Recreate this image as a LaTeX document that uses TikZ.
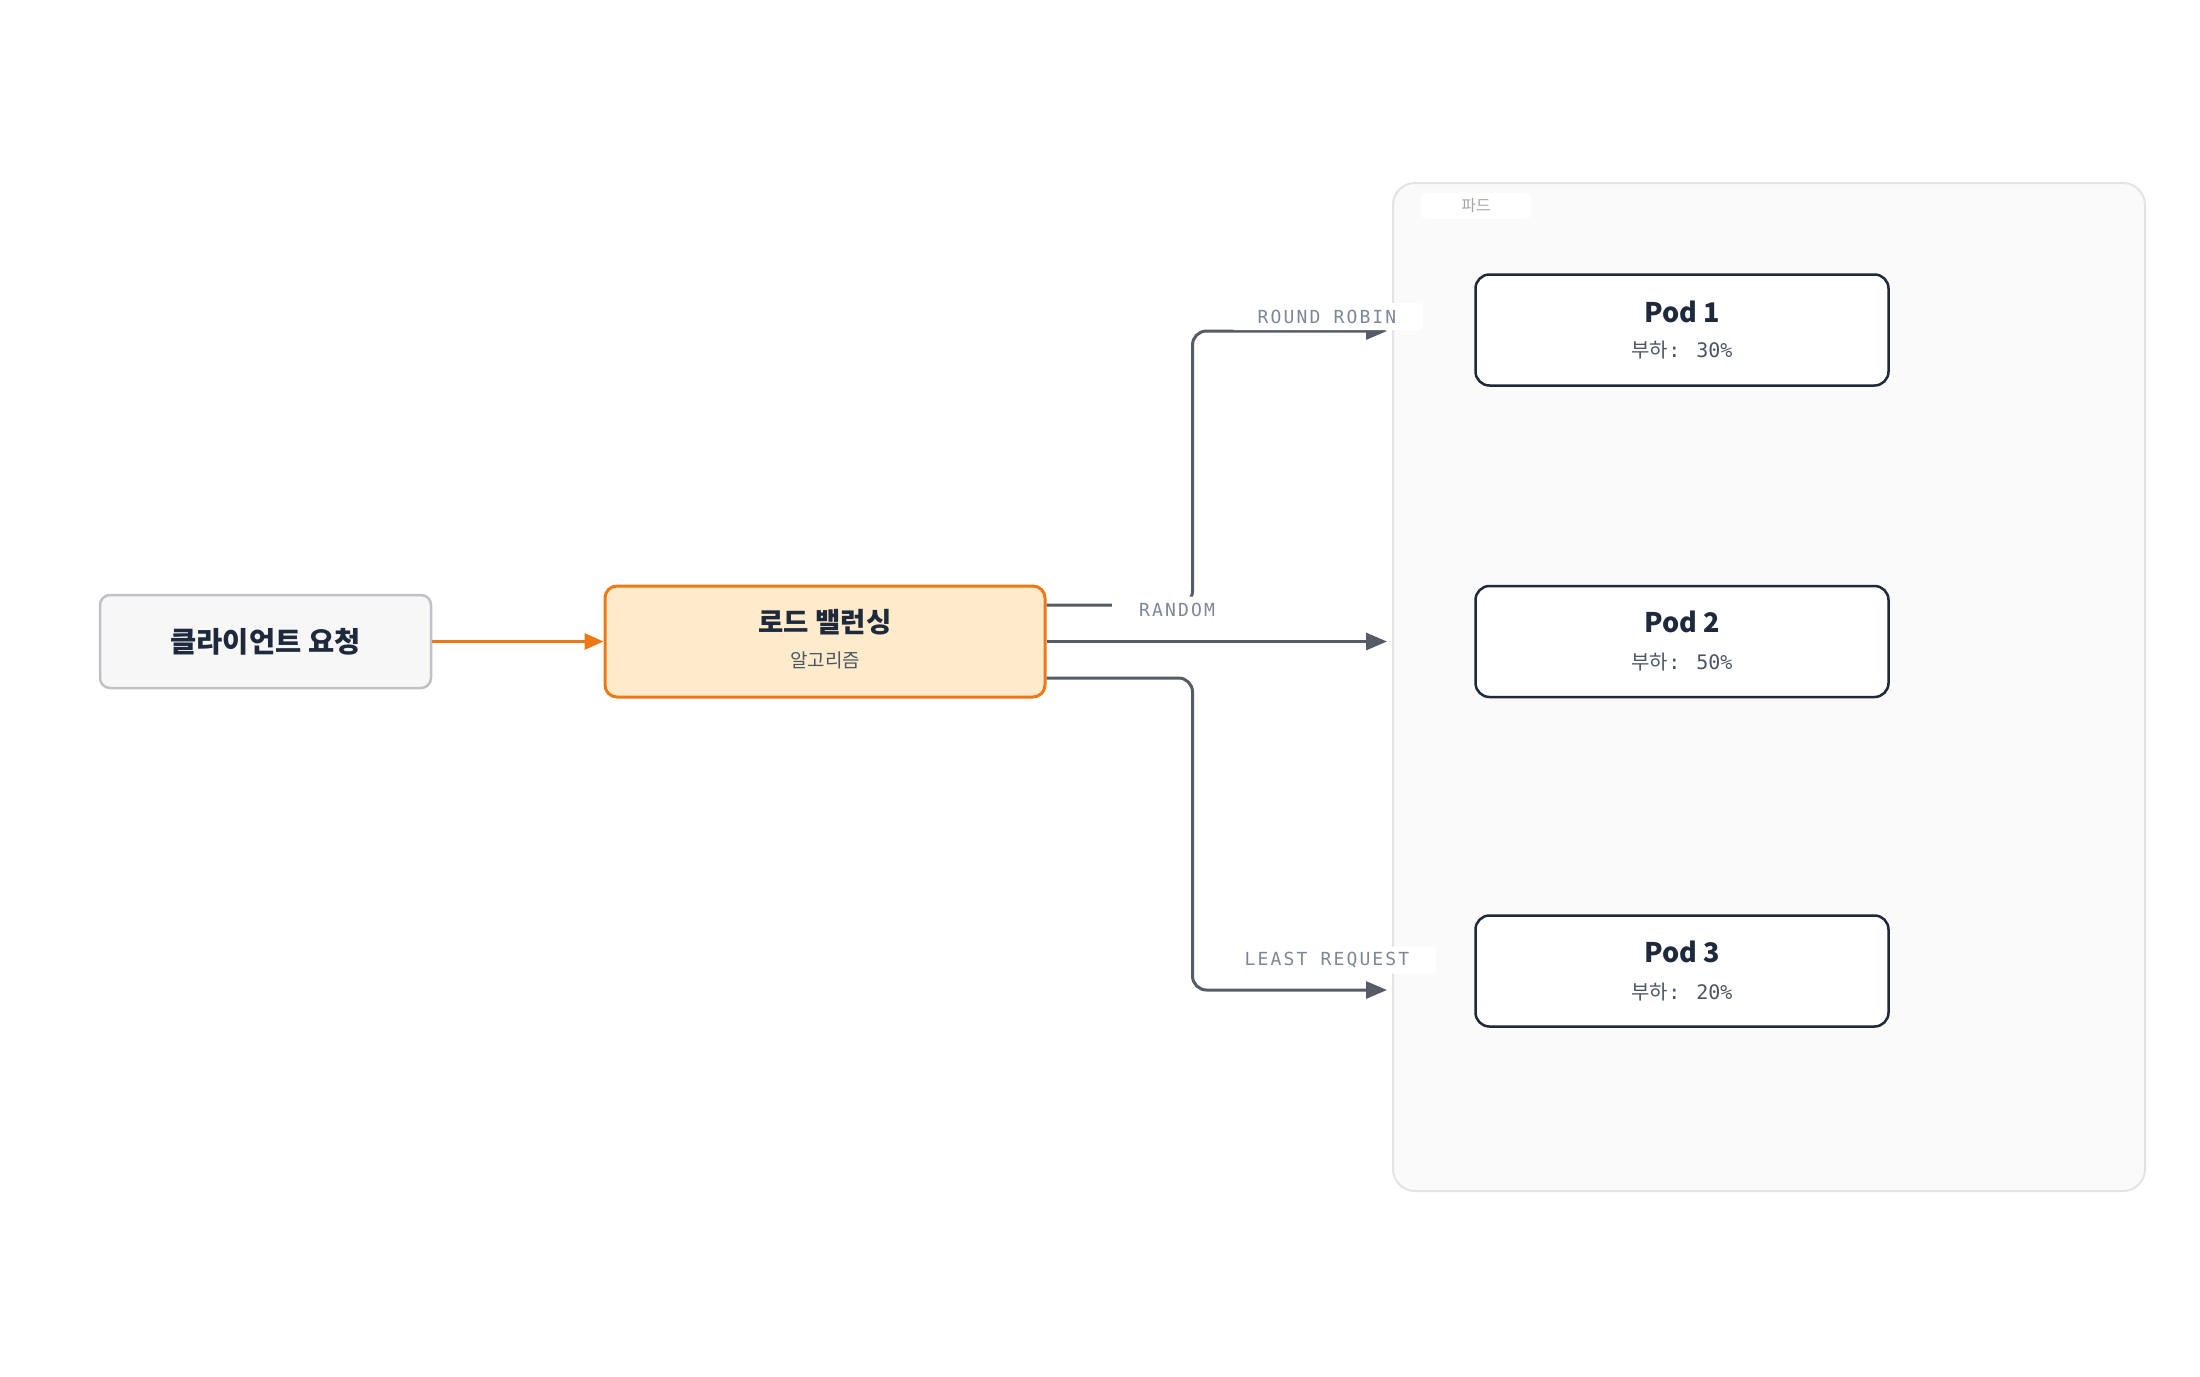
\documentclass[tikz,border=0pt]{standalone}
\usepackage{fontspec}
\usetikzlibrary{arrows.meta}
\newfontfamily\cjk{Noto Sans CJK KR}
\newfontfamily\lblmono[LetterSpace=12]{DejaVu Sans Mono}
\newfontfamily\monof{DejaVu Sans Mono}
\definecolor{ink}{HTML}{1E293B}
\definecolor{subink}{HTML}{4B5563}
\definecolor{edgecol}{HTML}{555C66}
\definecolor{lblcol}{HTML}{7D8795}
\definecolor{orangeln}{HTML}{EE7716}
\definecolor{orangefill}{HTML}{FEEBCB}
\definecolor{clientfill}{HTML}{F7F7F7}
\definecolor{clientline}{HTML}{BFC1C5}
\definecolor{podline}{HTML}{1F2937}
\definecolor{groupfill}{HTML}{FAFAFA}
\definecolor{groupline}{HTML}{E3E3E3}
\definecolor{tagtext}{HTML}{A3A7AD}
\tikzset{
  boxbase/.style={rectangle, inner sep=0pt, anchor=center},
  clientbox/.style={boxbase, rounded corners=10pt, fill=clientfill, draw=clientline, line width=2.5pt},
  lbbox/.style={boxbase, rounded corners=12pt, fill=orangefill, draw=orangeln, line width=3pt},
  podbox/.style={boxbase, rounded corners=14pt, fill=white, draw=podline, line width=2.5pt, minimum width=413pt, minimum height=111pt},
  groupbox/.style={boxbase, rounded corners=22pt, fill=groupfill, draw=groupline, line width=2pt},
  tagbox/.style={boxbase, rounded corners=5pt, fill=white, text=tagtext, font=\cjk\fontsize{16}{18}\selectfont},
  titletxt/.style={inner sep=0pt, text=ink, font=\cjk\bfseries\fontsize{27}{30}\selectfont},
  subtxt/.style={inner sep=0pt, text=subink, font=\fontsize{20}{23}\selectfont},
  edge/.style={draw=edgecol, line width=3pt, rounded corners=14pt, -{Triangle[length=21pt,width=17pt]}},
  orangeedge/.style={draw=orangeln, line width=3pt, -{Triangle[length=19pt,width=16pt]}},
  elabel/.style={rectangle, fill=white, rounded corners=4pt, inner xsep=27pt, inner ysep=0pt, minimum height=27pt, text=lblcol, font=\lblmono\fontsize{18}{21}\selectfont}
}
\begin{document}
\begin{tikzpicture}[x=1pt,y=-1pt]
\path[fill=white] (0,0) rectangle (2200,1376);
\useasboundingbox (0,0) rectangle (2200,1376);

% group container
\node[groupbox, minimum width=752pt, minimum height=1008pt] (pods) at (1769,687) {};
\node[tagbox, minimum width=110pt, minimum height=26pt] (tag) at (1476,206) {파드};

% client
\node[clientbox, minimum width=331pt, minimum height=93pt] (client) at (265.5,641.5) {};
\node[titletxt, font=\cjk\bfseries\fontsize{28.5}{32}\selectfont] (clientt) at (265.5,641.5) {클라이언트 요청};

% load balancer
\node[lbbox, minimum width=440pt, minimum height=111pt] (lb) at (825,641.5) {};
\node[titletxt, font=\cjk\bfseries\fontsize{27.5}{30}\selectfont] (lbt) at (825,622) {로드 밸런싱};
\node[subtxt, font=\cjk\fontsize{19}{22}\selectfont] (lbs) at (825,660) {알고리즘};

% pods
\node[podbox] (p1) at (1682,330) {};
\node[titletxt] (p1t) at (1682,312) {Pod 1};
\node[subtxt] (p1s) at (1682,350) {{\cjk 부하}{\monof : 30\%}};

\node[podbox] (p2) at (1682,641.5) {};
\node[titletxt] (p2t) at (1682,622) {Pod 2};
\node[subtxt] (p2s) at (1682,662) {{\cjk 부하}{\monof : 50\%}};

\node[podbox] (p3) at (1682,971) {};
\node[titletxt] (p3t) at (1682,952) {Pod 3};
\node[subtxt] (p3s) at (1682,992) {{\cjk 부하}{\monof : 20\%}};

% connector ends at the group border
\coordinate (rrend) at (1387,331);
\coordinate (rdend) at (1387,641.5);
\coordinate (lrend) at (1387,990);

% connectors
\draw[orangeedge] (client.east) -- (lb.west);
\draw[edge] ([yshift=36.5pt]lb.east) -- ++(146,0) |- (rrend);
\draw[edge] (lb.east) -- (rdend);
\draw[edge] ([yshift=-36.5pt]lb.east) -- ++(146,0) |- (lrend);

% connector labels
\node[elabel] (lrr) at (1327,316.5) {ROUND ROBIN};
\node[elabel] (lrd) at (1177,610) {RANDOM};
\node[elabel] (llr) at (1327,960) {LEAST REQUEST};
\end{tikzpicture}
\end{document}
